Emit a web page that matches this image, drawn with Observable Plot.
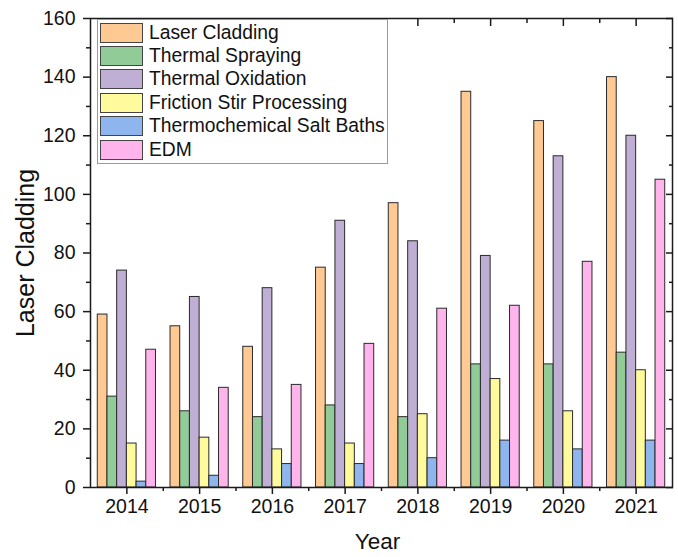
<!DOCTYPE html>
<html>
<head>
<meta charset="utf-8">
<script src="https://cdn.jsdelivr.net/npm/d3@7"></script>
<script src="https://cdn.jsdelivr.net/npm/@observablehq/plot@0.6"></script>
<style>
  body { margin: 0; background: #fff; }
  #chart { position: relative; width: 678px; height: 557px; font-family: "Liberation Sans", Arial, sans-serif; }
  #chart svg { display: block; }
  .legend { position: absolute; left: 97px; top: 19px; width: 291px; height: 145px; box-sizing: border-box;
            border: 1px solid #9a9a9a; background: #fff; padding-top: 1px; }
  .legend .row { display: flex; align-items: center; height: 23.4px; }
  .legend .sw { width: 43px; height: 20px; margin-left: 2px; box-sizing: border-box; border: 1px solid #444; }
  .legend .lab { margin-left: 6px; font-size: 19.3px; color: #111; white-space: nowrap; }
</style>
</head>
<body>
<div id="chart"></div>
<script>
// Publication counts per year for each surface-modification technique
const years = [2014, 2015, 2016, 2017, 2018, 2019, 2020, 2021];
const series = ["Laser Cladding", "Thermal Spraying", "Thermal Oxidation",
                "Friction Stir Processing", "Thermochemical Salt Baths", "EDM"];
const laserCladding    = [59, 55, 48, 75, 97, 135, 125, 140];
const thermalSpraying  = [31, 26, 24, 28, 24, 42, 42, 46];
const thermalOxidation = [74, 65, 68, 91, 84, 79, 113, 120];
const frictionStir     = [15, 17, 13, 15, 25, 37, 26, 40];
const saltBaths        = [2, 4, 8, 8, 10, 16, 13, 16];
const edm              = [47, 34, 35, 49, 61, 62, 77, 105];
const colors = ["#ffc993", "#91cb97", "#bfafd4", "#fffb9c", "#8fb5ee", "#ffb4ec"];
const yTicks = [0, 20, 40, 60, 80, 100, 120, 140, 160];

// Long-format table: one row per bar
const values = [laserCladding, thermalSpraying, thermalOxidation, frictionStir, saltBaths, edm];
const rows = [];
series.forEach((s, k) => years.forEach((yr, i) => rows.push({year: yr, series: s, k, value: values[k][i]})));

// Bars in a group fill 80% of a year slot, centred on the year
const groupWidth = 0.8;
const bw = groupWidth / series.length;
const yMinor = yTicks.slice(1).map(t => t - 10);
const xMinor = years.slice(1).map(y => y - 0.5);

const ink = "#1a1a1a";
const chart = Plot.plot({
  width: 678,
  height: 557,
  marginLeft: 90,
  marginRight: 6,
  marginTop: 18,
  marginBottom: 70,
  x: {domain: [years[0] - 0.5, years[years.length - 1] + 0.5], axis: null},
  y: {domain: [0, 160], axis: null},
  color: {domain: series, range: colors},
  style: {fontFamily: "Liberation Sans, Arial, sans-serif", fontSize: "19.5px", color: "#111", background: "transparent"},
  marks: [
    Plot.rect(rows, {
      x1: d => d.year - groupWidth / 2 + d.k * bw,
      x2: d => d.year - groupWidth / 2 + (d.k + 1) * bw,
      y1: () => 0,
      y2: "value",
      fill: "series",
      stroke: "#2a2a2a",
      strokeWidth: 1
    }),
    Plot.frame({stroke: ink, strokeWidth: 1.5}),
    // left axis: outward ticks with labels
    Plot.axisY(yTicks, {anchor: "left", tickSize: 7, tickPadding: 8, strokeWidth: 1.5, stroke: ink, fill: "#111", fontSize: 19.5, label: null}),
    Plot.axisY(yMinor, {anchor: "left", tickSize: 4, strokeWidth: 1.5, stroke: ink, fill: "none"}),
    // right axis: inward ticks
    Plot.axisY(yTicks, {anchor: "right", tickSize: 7, insetRight: 7, strokeWidth: 1.5, stroke: ink, fill: "none"}),
    Plot.axisY(yMinor, {anchor: "right", tickSize: 4, insetRight: 4, strokeWidth: 1.5, stroke: ink, fill: "none"}),
    // bottom axis: outward ticks with year labels
    Plot.axisX(years, {anchor: "bottom", tickSize: 7, tickPadding: 5, strokeWidth: 1.5, stroke: ink, fill: "#111", fontSize: 19.5, tickFormat: d => String(d), label: null}),
    Plot.axisX(xMinor, {anchor: "bottom", tickSize: 4, strokeWidth: 1.5, stroke: ink, fill: "none"}),
    // top axis: inward ticks
    Plot.axisX(years, {anchor: "top", tickSize: 7, insetTop: 7, strokeWidth: 1.5, stroke: ink, fill: "none"}),
    Plot.axisX(xMinor, {anchor: "top", tickSize: 4, insetTop: 4, strokeWidth: 1.5, stroke: ink, fill: "none"}),
    // axis titles
    Plot.text(["Laser Cladding"], {frameAnchor: "left", textAnchor: "middle", rotate: -90, dx: -65, fontSize: 25, fill: "#111"}),
    Plot.text(["Year"], {frameAnchor: "bottom", textAnchor: "middle", dx: -4, dy: 61, fontSize: 22.5, fill: "#111"})
  ]
});

const root = document.getElementById("chart");
root.appendChild(chart);

// Legend box inside the plot area
const legend = document.createElement("div");
legend.className = "legend";
series.forEach((s, k) => {
  const row = document.createElement("div");
  row.className = "row";
  const sw = document.createElement("div");
  sw.className = "sw";
  sw.style.background = colors[k];
  const lab = document.createElement("span");
  lab.className = "lab";
  lab.textContent = s;
  row.appendChild(sw);
  row.appendChild(lab);
  legend.appendChild(row);
});
root.appendChild(legend);
</script>
</body>
</html>
